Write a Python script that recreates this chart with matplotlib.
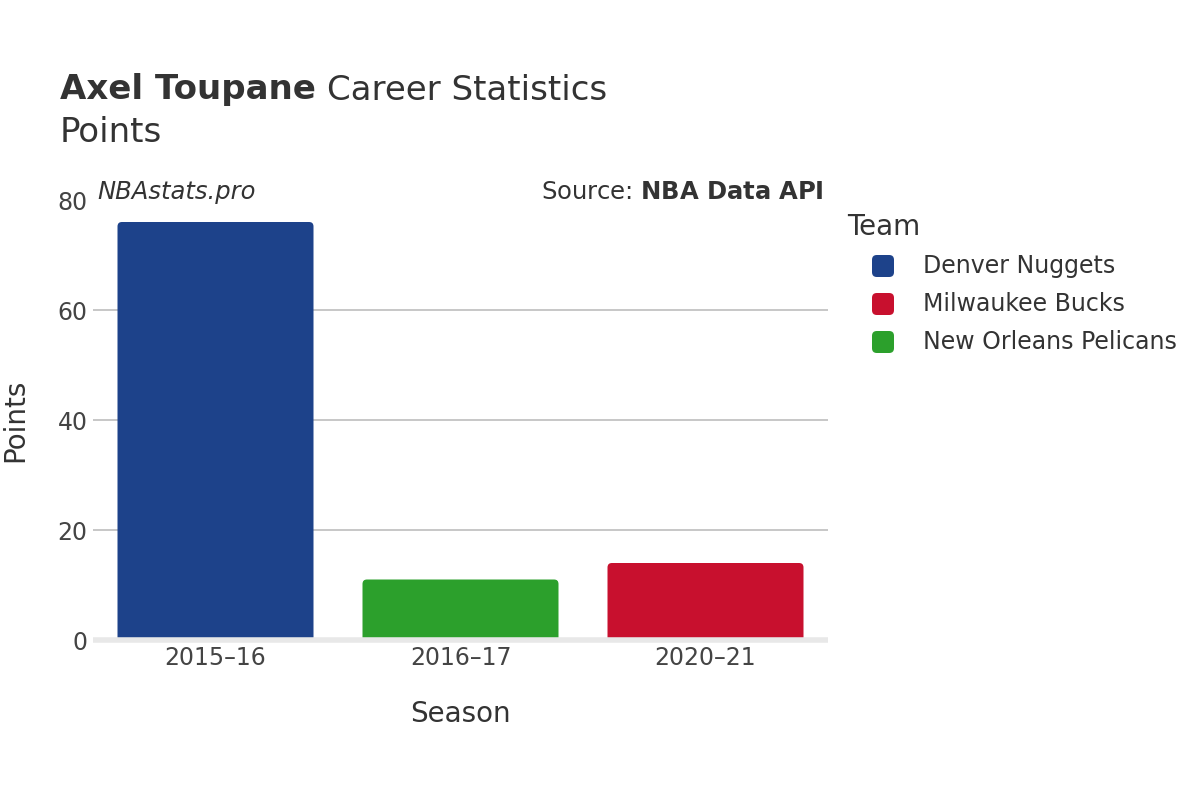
import numpy as np
import matplotlib
matplotlib.use("Agg")
import matplotlib.pyplot as plt
from matplotlib.patches import FancyBboxPatch

seasons = ["2015–16", "2016–17", "2020–21"]
teams = ["Denver Nuggets", "New Orleans Pelicans", "Milwaukee Bucks"]
points = [76, 11, 14]
legend_teams = ["Denver Nuggets", "Milwaukee Bucks", "New Orleans Pelicans"]
team_colors = {"Denver Nuggets": "#1d428a",
               "Milwaukee Bucks": "#c8102e",
               "New Orleans Pelicans": "#2ca02c"}
yticks = [0, 20, 40, 60, 80]

txt = "#333333"
fig = plt.figure(figsize=(12, 8), dpi=100)
ax = fig.add_axes([93 / 1200, 0.2, 735 / 1200, 0.55])
ax.set_xlim(-0.5, len(seasons) - 0.5)
ax.set_ylim(0, 80)

# grid lines
for t in yticks[1:-1]:
    ax.axhline(t, color="#bdbdbd", lw=1.2, zorder=1)
ax.plot([-0.5, len(seasons) - 0.5], [0, 0], color="#e8e8e8", lw=4, zorder=3,
        clip_on=False, solid_capstyle="butt")

# rounded bars (bottom extends below 0 and gets clipped)
w = 0.8
for i, (team, val) in enumerate(zip(teams, points)):
    p = FancyBboxPatch((i - w / 2, -3), w, val + 3,
                       boxstyle="round,pad=0,rounding_size=0.018",
                       mutation_aspect=45, fc=team_colors[team], ec="none", zorder=2)
    ax.add_patch(p)

for s in ax.spines.values():
    s.set_visible(False)
ax.set_xticks(range(len(seasons)))
ax.set_xticklabels(seasons)
ax.set_yticks(yticks)
ax.tick_params(axis="both", length=0, labelsize=17, labelcolor="#444444")
ax.tick_params(axis="x", pad=4)
ax.tick_params(axis="y", pad=4)
ax.set_xlabel("Season", fontsize=20, color=txt, labelpad=22)
ax.set_ylabel("Points", fontsize=20, color=txt, labelpad=20)

# titles
fig.text(60 / 1200, 1 - 90 / 800, "Axel Toupane", fontsize=24.5, fontweight="bold",
         color=txt, va="center")
fig.text(327 / 1200, 1 - 90 / 800, "Career Statistics", fontsize=24.5, color=txt, va="center")
fig.text(60 / 1200, 1 - 133 / 800, "Points", fontsize=24.5, color=txt, va="center")
fig.text(97 / 1200, 1 - 192 / 800, "NBAstats.pro", fontsize=17.5, style="italic",
         color=txt, va="center")
fig.text(824 / 1200, 1 - 192 / 800, r"Source: $\bf{NBA\ Data\ API}$", fontsize=17.5,
         color=txt, va="center", ha="right")

# legend
fig.text(847 / 1200, 1 - 227 / 800, "Team", fontsize=20, color=txt, va="center")
for k, team in enumerate(legend_teams):
    yc = 266 + 38 * k
    box = FancyBboxPatch((872 / 1200, 1 - (yc + 11) / 800), 22 / 1200, 22 / 800,
                         boxstyle="round,pad=0,rounding_size=0.004",
                         mutation_aspect=1.5, transform=fig.transFigure,
                         fc=team_colors[team], ec="none")
    fig.patches.append(box)
    fig.text(923 / 1200, 1 - yc / 800, team, fontsize=17, color=txt, va="center")

fig.savefig("out.png", dpi=100, facecolor="white")
